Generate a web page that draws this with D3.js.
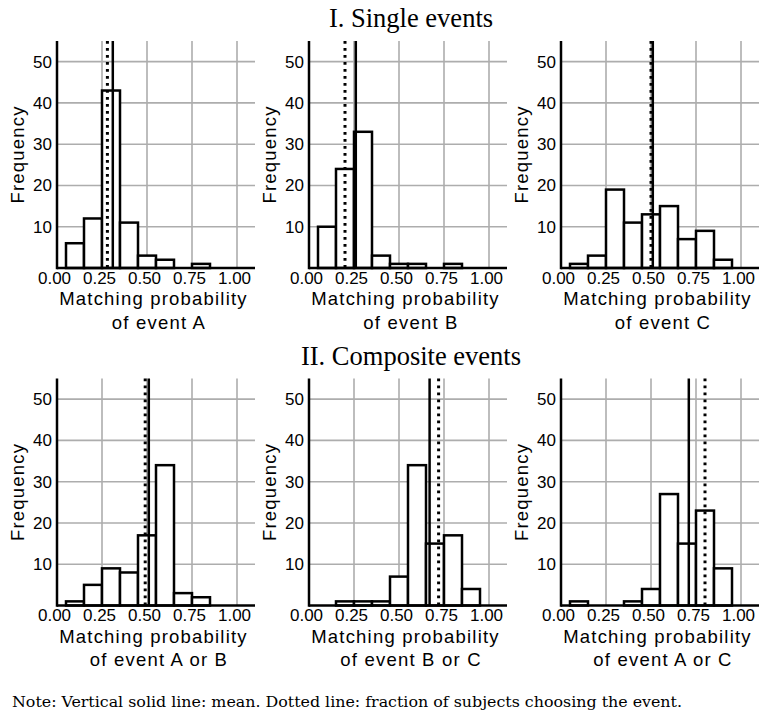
<!DOCTYPE html>
<meta charset="utf-8">
<html>
  <head>
    <style>
      body { margin: 0; background: #fff; }
      .grid line { stroke: #adadad; stroke-width: 1.6px; }
      .bar { fill: #fff; stroke: #000; stroke-width: 2.5px; }
      .tick text { font-family: "Liberation Sans", Arial, sans-serif; font-size: 17px; fill: #000; }
      .lab { font-family: "Liberation Sans", Arial, sans-serif; font-size: 18.5px; letter-spacing: 1.2px; fill: #000; }
      .title { font-family: "Liberation Serif", "Times New Roman", serif; font-size: 26.5px; fill: #000; }
      .note { font-family: "DejaVu Serif", serif; font-stretch: condensed; font-size: 15.5px; fill: #000; }
    </style>
    <script src="https://d3js.org/d3.v7.min.js"></script>
  </head>
  <body>
    <script>

      var width = 761,
          height = 713;

      // bins of width 0.1 centred on these values
      var binCenters = [0.1, 0.2, 0.3, 0.4, 0.5, 0.6, 0.7, 0.8, 0.9];

      var freqA  = [6, 12, 43, 11, 3, 2, 0, 1, 0];
      var freqB  = [10, 24, 33, 3, 1, 1, 0, 1, 0];
      var freqC  = [1, 3, 19, 11, 13, 15, 7, 9, 2];
      var freqAB = [1, 5, 9, 8, 17, 34, 3, 2, 0];
      var freqBC = [0, 1, 1, 1, 7, 34, 15, 17, 4];
      var freqAC = [1, 0, 0, 1, 4, 27, 15, 23, 9];

      var means     = [0.31, 0.26, 0.51, 0.51, 0.67, 0.71];
      var fractions = [0.28, 0.20, 0.50, 0.49, 0.72, 0.80];

      var eventNames = ["event A", "event B", "event C", "event A or B", "event B or C", "event A or C"];
      var rowTitles = ["I. Single events", "II. Composite events"];

      var xTicks = [0, 0.25, 0.5, 0.75, 1];
      var xGrid = [0.25, 0.5, 0.75, 1];
      var yTicks = [10, 20, 30, 40, 50];

      var freqs = [freqA, freqB, freqC, freqAB, freqBC, freqAC];

      // layout
      var colX = [57, 309, 561],
          rowTop = [41, 378.5],
          plotW = 198,
          plotH = 227;

      var svg = d3.select('body').append('svg')
          .attr('width', width)
          .attr('height', height);

      var x = d3.scaleLinear().domain([0, 1.1]).range([0, plotW]);
      var y = d3.scaleLinear().domain([0, 55]).range([plotH, 0]);

      rowTitles.forEach(function(t, r) {
          svg.append("text")
              .attr("class", "title")
              .attr("x", 411)
              .attr("y", rowTop[r] - 14)
              .attr("text-anchor", "middle")
              .text(t);
      });

      freqs.forEach(function(freq, i) {
          var col = i % 3, row = Math.floor(i / 3);
          var g = svg.append("g")
              .attr("transform", "translate(" + colX[col] + "," + rowTop[row] + ")");

          // grid
          var grid = g.append("g").attr("class", "grid");
          grid.selectAll(".gx").data(xGrid).enter().append("line")
              .attr("x1", function(d) { return x(d); })
              .attr("x2", function(d) { return x(d); })
              .attr("y1", 0).attr("y2", plotH);
          grid.selectAll(".gy").data(yTicks).enter().append("line")
              .attr("x1", 0).attr("x2", plotW)
              .attr("y1", function(d) { return y(d); })
              .attr("y2", function(d) { return y(d); });

          // bars
          var bins = binCenters.map(function(c, j) { return {c: c, v: freq[j]}; })
              .filter(function(d) { return d.v > 0; });
          g.selectAll(".bar").data(bins).enter().append("rect")
              .attr("class", "bar")
              .attr("x", function(d) { return x(d.c - 0.05); })
              .attr("width", x(0.1) - x(0))
              .attr("y", function(d) { return y(d.v); })
              .attr("height", function(d) { return y(0) - y(d.v); });

          // fraction (dotted) and mean (solid)
          g.append("line")
              .attr("x1", x(fractions[i])).attr("x2", x(fractions[i]))
              .attr("y1", 0).attr("y2", plotH)
              .attr("stroke", "#000").attr("stroke-width", 3)
              .attr("stroke-dasharray", "2.8,4.2");
          g.append("line")
              .attr("x1", x(means[i])).attr("x2", x(means[i]))
              .attr("y1", 0).attr("y2", plotH)
              .attr("stroke", "#000").attr("stroke-width", 2.5);

          // axes
          var xa = g.append("g")
              .attr("transform", "translate(0," + plotH + ")")
              .call(d3.axisBottom(x).tickValues(xTicks).tickFormat(d3.format(".2f"))
                    .tickSize(0).tickPadding(3.5));
          xa.select(".domain").remove();
          xa.attr("font-family", null).attr("font-size", null);
          xa.selectAll("text").attr("dx", "-3");

          var ya = g.append("g")
              .call(d3.axisLeft(y).tickValues(yTicks).tickSize(0).tickPadding(5));
          ya.select(".domain").remove();
          ya.attr("font-family", null).attr("font-size", null);

          g.append("line")
              .attr("x1", 0).attr("x2", plotW)
              .attr("y1", plotH).attr("y2", plotH)
              .attr("stroke", "#000").attr("stroke-width", 2.5);
          g.append("line")
              .attr("x1", 0).attr("x2", 0)
              .attr("y1", 0).attr("y2", plotH + 1.25)
              .attr("stroke", "#000").attr("stroke-width", 2.5);

          // labels
          g.append("text")
              .attr("class", "lab")
              .attr("text-anchor", "middle")
              .attr("transform", "translate(-33.5," + (plotH / 2) + ")rotate(-90)")
              .text("Frequency");
          g.append("text")
              .attr("class", "lab")
              .attr("text-anchor", "middle")
              .attr("x", plotW / 2 - 2.5)
              .attr("y", plotH + 37)
              .text("Matching probability");
          g.append("text")
              .attr("class", "lab")
              .attr("text-anchor", "middle")
              .attr("x", plotW / 2 + 3)
              .attr("y", plotH + 60.5)
              .text("of " + eventNames[i]);
      });

      svg.append("text")
          .attr("class", "note")
          .attr("x", 12)
          .attr("y", 707)
          .attr("textLength", 670)
          .attr("lengthAdjust", "spacingAndGlyphs")
          .text("Note: Vertical solid line: mean. Dotted line: fraction of subjects choosing the event.");

    </script>
  </body>
</html>
